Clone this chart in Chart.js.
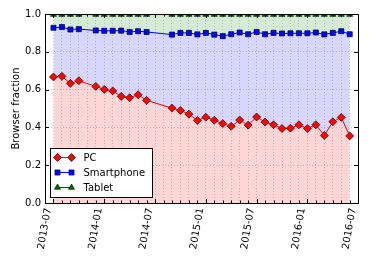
<!DOCTYPE html>
<html>
<head>
<meta charset="utf-8">
<script src="https://cdn.jsdelivr.net/npm/chart.js@4.4.1/dist/chart.umd.min.js"></script>
<style>
  body { margin: 0; background: #fff; }
  #wrap { width: 374px; height: 262px; }
</style>
</head>
<body>
<div id="wrap"><canvas id="chart" width="374" height="262"></canvas></div>
<script>
// months with data (2013-11, 2014-07, 2014-08 are missing)
const months = ['2013-07','2013-08','2013-09','2013-10','2013-12',
  '2014-01','2014-02','2014-03','2014-04','2014-05','2014-06','2014-09','2014-10','2014-11','2014-12',
  '2015-01','2015-02','2015-03','2015-04','2015-05','2015-06','2015-07','2015-08','2015-09','2015-10','2015-11','2015-12',
  '2016-01','2016-02','2016-03','2016-04','2016-05','2016-06'];

// stacked lines as drawn (PC, PC+Smartphone, PC+Smartphone+Tablet)
const pcLine = [0.667,0.670,0.633,0.647,0.617,
  0.601,0.593,0.564,0.557,0.573,0.543,0.502,0.490,0.470,0.437,
  0.454,0.438,0.420,0.406,0.439,0.412,0.455,0.428,0.414,0.394,0.396,0.414,
  0.394,0.414,0.357,0.430,0.453,0.355];
const smartphoneLine = [0.927,0.931,0.918,0.920,0.913,
  0.911,0.911,0.912,0.905,0.909,0.905,0.891,0.900,0.900,0.892,
  0.900,0.891,0.883,0.893,0.902,0.893,0.905,0.893,0.900,0.897,0.898,0.898,
  0.898,0.902,0.892,0.900,0.909,0.893];
const tabletLine = [0.997,0.997,0.997,0.997,0.997,
  0.997,0.997,0.997,0.997,0.997,0.997,0.997,0.997,0.997,0.997,
  0.997,0.997,0.997,0.997,0.997,0.997,0.997,0.997,0.997,0.997,0.997,0.997,
  0.997,0.997,0.997,0.997,0.997,0.997];

const seriesNames = ['PC', 'Smartphone', 'Tablet'];
const xTickLabels = ['2013-07','2014-01','2014-07','2015-01','2015-07','2016-01','2016-07'];
const yTicks = [0, 0.2, 0.4, 0.6, 0.8, 1.0];

// month string -> months since 2013-07
function monthIndex(s) {
  const [yy, mm] = s.split('-').map(Number);
  return (yy - 2013) * 12 + (mm - 7);
}
function toPoints(vals) {
  return months.map((m, i) => ({ x: monthIndex(m), y: vals[i] }));
}

// frame, inward ticks and legend box like matplotlib
const frameAndLegend = {
  id: 'frameAndLegend',
  afterDatasetsDraw(chart) {
    const { ctx, chartArea: a, scales: { x, y } } = chart;
    ctx.save();
    ctx.strokeStyle = '#000';
    ctx.lineWidth = 1;
    ctx.beginPath();
    for (let m = 0; m <= 36; m++) {
      const px = Math.round(x.getPixelForValue(m)) + 0.5;
      const len = m % 6 === 0 ? 4 : 2.5;
      ctx.moveTo(px, a.bottom); ctx.lineTo(px, a.bottom - len);
      ctx.moveTo(px, a.top); ctx.lineTo(px, a.top + len);
    }
    yTicks.forEach(v => {
      const py = Math.round(y.getPixelForValue(v)) + 0.5;
      ctx.moveTo(a.left, py); ctx.lineTo(a.left + 4, py);
      ctx.moveTo(a.right, py); ctx.lineTo(a.right - 4, py);
    });
    ctx.stroke();
    ctx.strokeRect(Math.round(a.left) + 0.5, Math.round(a.top) + 0.5,
      Math.round(a.right - a.left), Math.round(a.bottom - a.top));

    // legend
    const bx = Math.round(a.left) + 5.5, by = Math.round(a.bottom) - 54.5;
    const bw = 102, bh = 49;
    ctx.fillStyle = '#fff';
    ctx.fillRect(bx, by, bw, bh);
    ctx.strokeStyle = '#000';
    ctx.lineWidth = 1;
    ctx.strokeRect(bx, by, bw, bh);
    chart.data.datasets.forEach((ds, i) => {
      const cy = by + 9 + i * 15;
      const x0 = bx + 7, x1 = bx + 21;
      ctx.strokeStyle = ds.borderColor;
      ctx.lineWidth = 1;
      ctx.beginPath();
      ctx.moveTo(x0, cy); ctx.lineTo(x1, cy);
      ctx.stroke();
      [x0, x1].forEach(px => {
        ctx.fillStyle = ds.pointBackgroundColor;
        ctx.strokeStyle = ds.pointBorderColor;
        ctx.lineWidth = ds.pointBorderWidth;
        Chart.helpers.drawPoint(ctx, { pointStyle: ds.pointStyle, radius: ds.pointRadius, rotation: 0, borderWidth: ds.pointBorderWidth }, px, cy);
      });
      ctx.fillStyle = '#000';
      ctx.font = '10px "DejaVu Sans"';
      ctx.textBaseline = 'middle';
      ctx.textAlign = 'left';
      ctx.fillText(ds.label, bx + 33, cy + 0.5);
    });
    ctx.restore();
  }
};

Chart.defaults.font.family = '"DejaVu Sans", sans-serif';
Chart.defaults.font.size = 10;
Chart.defaults.color = '#000';

const chart = new Chart(document.getElementById('chart').getContext('2d'), {
  type: 'line',
  data: {
    datasets: [
      {
        label: seriesNames[0],
        data: toPoints(pcLine),
        borderColor: '#ff0000',
        backgroundColor: 'rgba(255,0,0,0.16)',
        fill: 'origin',
        pointStyle: 'rectRot',
        pointRadius: 4,
        pointBackgroundColor: '#ff0000',
        pointBorderColor: '#330000',
        pointBorderWidth: 0.7,
        borderWidth: 1
      },
      {
        label: seriesNames[1],
        data: toPoints(smartphoneLine),
        borderColor: '#0000ff',
        backgroundColor: 'rgba(0,0,255,0.16)',
        fill: '-1',
        pointStyle: 'rect',
        pointRadius: 3.6,
        pointBackgroundColor: '#0000ff',
        pointBorderColor: '#000033',
        pointBorderWidth: 0.7,
        borderWidth: 1
      },
      {
        label: seriesNames[2],
        data: toPoints(tabletLine),
        borderColor: '#006400',
        backgroundColor: 'rgba(0,128,0,0.16)',
        fill: '-1',
        pointStyle: 'triangle',
        pointRadius: 3.5,
        pointBackgroundColor: '#006400',
        pointBorderColor: '#002200',
        pointBorderWidth: 0.7,
        borderWidth: 1
      }
    ]
  },
  options: {
    responsive: false,
    animation: false,
    layout: { padding: { top: 14, right: 12, left: 0, bottom: 0 } },
    plugins: {
      legend: { display: false },
      tooltip: { enabled: false }
    },
    scales: {
      x: {
        type: 'linear',
        min: -1,
        max: 36,
        afterFit: s => { s.height = 59; },
        grid: { color: '#c4c4c4', lineWidth: 0.8, drawTicks: false },
        border: { display: false, dash: [1, 2] },
        ticks: {
          stepSize: 1,
          autoSkip: false,
          minRotation: 80,
          maxRotation: 80,
          padding: 4,
          labelOffset: -5,
          callback: v => (v >= 0 && v % 6 === 0) ? xTickLabels[v / 6] : ''
        }
      },
      y: {
        min: 0,
        max: 1,
        afterFit: s => { s.width = 45; },
        grid: { color: '#c4c4c4', lineWidth: 0.8, drawTicks: false },
        border: { display: false, dash: [1, 2] },
        title: { display: true, text: 'Browser fraction', padding: { top: 10, bottom: 0 } },
        ticks: {
          stepSize: 0.2,
          padding: 4,
          callback: v => v.toFixed(1)
        }
      }
    }
  },
  plugins: [frameAndLegend]
});
</script>
</body>
</html>
